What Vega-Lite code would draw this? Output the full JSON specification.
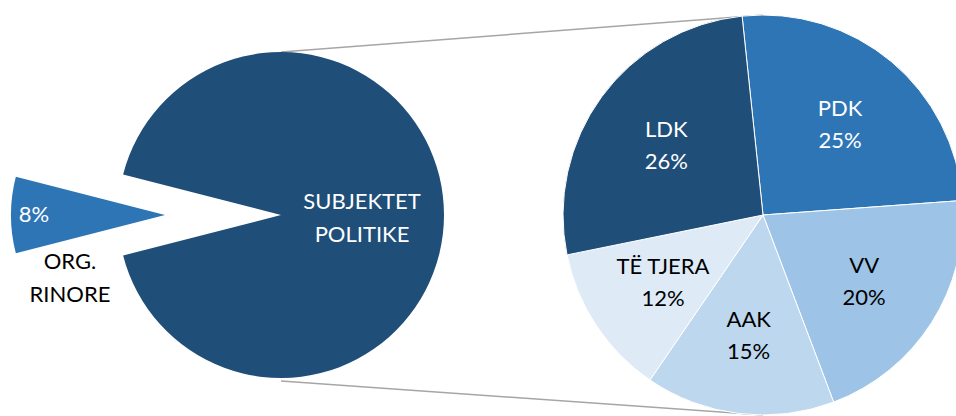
{
  "$schema": "https://vega.github.io/schema/vega-lite/v6.json",
  "width": 956,
  "height": 416,
  "autosize": {"type": "fit", "contains": "padding"},
  "padding": {"top": 14, "left": 0, "right": 0, "bottom": 0},
  "background": "white",
  "config": {"view": {"stroke": null}, "text": {"font": "Lato", "fontSize": 22}},
  "datasets": {
    "pie1": [
      {"label": "ORG. RINORE", "pct": 0.08, "pie": "PIE 1"},
      {"label": "SUBJEKTET POLITIKE", "pct": 0.92, "pie": "PIE 1"}
    ],
    "pie2": [
      {"label": "PDK", "pct": 0.25, "rank": 1, "pie": "PIE 2"},
      {"label": "VV", "pct": 0.20, "rank": 2, "pie": "PIE 2"},
      {"label": "AAK", "pct": 0.15, "rank": 3, "pie": "PIE 2"},
      {"label": "TË TJERA", "pct": 0.12, "rank": 4, "pie": "PIE 2"},
      {"label": "LDK", "pct": 0.26, "rank": 5, "pie": "PIE 2"}
    ],
    "lines": [
      {"line": "top", "from": "PIE 1", "to": "PIE 2", "y1": 0.815, "y2": 1},
      {"line": "bottom", "from": "PIE 1", "to": "PIE 2", "y1": -0.83, "y2": -1}
    ]
  },
  "layer": [
    {
      "data": {"name": "lines"},
      "mark": {"type": "rule", "color": "#a6a6a6", "strokeWidth": 1.5},
      "encoding": {
        "x": {"field": "from", "type": "nominal", "scale": {"type": "point", "domain": ["PIE 1", "PIE 2"], "range": [281, 763], "padding": 0}, "axis": null},
        "x2": {"field": "to"},
        "y": {"field": "y1", "type": "quantitative", "scale": {"domain": [-1.005, 1.005]}, "axis": null},
        "y2": {"field": "y2"}
      }
    },
    {
      "data": {"name": "pie1"},
      "transform": [{"filter": "datum.label === 'SUBJEKTET POLITIKE'"}],
      "mark": {"type": "arc", "outerRadius": 163, "color": "#1f4e79"},
      "encoding": {
        "x": {"field": "pie", "type": "nominal", "axis": null},
        "theta": {"field": "pct", "type": "quantitative", "stack": true, "scale": {"domain": [0, 1], "range": [4.9637, 11.2469]}}
      }
    },
    {
      "data": {"name": "pie1"},
      "transform": [{"filter": "datum.label === 'ORG. RINORE'"}],
      "mark": {"type": "arc", "outerRadius": 154, "xOffset": -116, "color": "#2e75b6"},
      "encoding": {
        "x": {"field": "pie", "type": "nominal", "axis": null},
        "theta": {"field": "pct", "type": "quantitative", "stack": true, "scale": {"domain": [0, 1], "range": [4.4611, 10.7443]}}
      }
    },
    {
      "data": {"name": "pie2"},
      "mark": {"type": "arc", "outerRadius": 200, "stroke": "white", "strokeWidth": 1},
      "encoding": {
        "x": {"field": "pie", "type": "nominal", "axis": null},
        "theta": {"field": "pct", "type": "quantitative", "stack": true, "scale": {"domain": [0, 0.98], "range": [-0.1047, 6.1785]}},
        "order": {"field": "rank", "type": "quantitative"},
        "color": {"field": "label", "type": "nominal", "scale": {"domain": ["PDK", "VV", "AAK", "TË TJERA", "LDK"], "range": ["#2e75b6", "#9dc3e6", "#bdd7ee", "#deebf7", "#1f4e79"]}, "legend": null}
      }
    },
    {
      "data": {"name": "pie1"},
      "transform": [{"filter": "datum.label === 'SUBJEKTET POLITIKE'"}],
      "mark": {"type": "text", "radius": 81, "dy": -13, "lineBreak": " ", "lineHeight": 33, "color": "white"},
      "encoding": {
        "x": {"field": "pie", "type": "nominal", "axis": null},
        "theta": {"field": "pct", "type": "quantitative", "stack": true, "scale": {"domain": [0, 1], "range": [4.9637, 11.2469]}},
        "text": {"field": "label"}
      }
    },
    {
      "data": {"name": "pie1"},
      "transform": [{"filter": "datum.label === 'ORG. RINORE'"}],
      "mark": {"type": "text", "radius": 131, "xOffset": -116, "color": "white"},
      "encoding": {
        "x": {"field": "pie", "type": "nominal", "axis": null},
        "theta": {"field": "pct", "type": "quantitative", "stack": true, "scale": {"domain": [0, 1], "range": [4.4611, 10.7443]}},
        "text": {"field": "pct", "format": ".0%"}
      }
    },
    {
      "data": {"name": "pie1"},
      "transform": [{"filter": "datum.label === 'ORG. RINORE'"}],
      "mark": {"type": "text", "xOffset": -116, "dx": -95, "dy": 47, "lineBreak": " ", "lineHeight": 33, "color": "black"},
      "encoding": {
        "x": {"field": "pie", "type": "nominal", "axis": null},
        "text": {"field": "label"}
      }
    },
    {
      "data": {"name": "pie2"},
      "mark": {"type": "text", "radius": 120, "dy": -14},
      "encoding": {
        "x": {"field": "pie", "type": "nominal", "axis": null},
        "theta": {"field": "pct", "type": "quantitative", "stack": true, "scale": {"domain": [0, 0.98], "range": [-0.1047, 6.1785]}},
        "order": {"field": "rank", "type": "quantitative"},
        "text": {"field": "label"},
        "color": {"field": "label", "type": "nominal", "scale": {"domain": ["PDK", "VV", "AAK", "TË TJERA", "LDK"], "range": ["white", "black", "black", "black", "white"]}, "legend": null}
      }
    },
    {
      "data": {"name": "pie2"},
      "mark": {"type": "text", "radius": 120, "dy": 18},
      "encoding": {
        "x": {"field": "pie", "type": "nominal", "axis": null},
        "theta": {"field": "pct", "type": "quantitative", "stack": true, "scale": {"domain": [0, 0.98], "range": [-0.1047, 6.1785]}},
        "order": {"field": "rank", "type": "quantitative"},
        "text": {"field": "pct", "format": ".0%"},
        "color": {"field": "label", "type": "nominal", "scale": {"domain": ["PDK", "VV", "AAK", "TË TJERA", "LDK"], "range": ["white", "black", "black", "black", "white"]}, "legend": null}
      }
    }
  ],
  "resolve": {"scale": {"theta": "independent", "color": "independent"}}
}
